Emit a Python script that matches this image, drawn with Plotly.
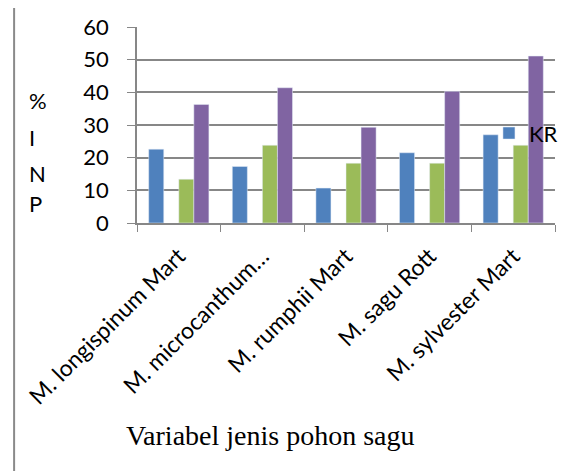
import plotly.graph_objects as go

categories = ["M. longispinum Mart", "M. microcanthum…", "M. rumphii Mart",
              "M. sagu Rott", "M. sylvester Mart"]
kr = [22.6, 17.3, 10.7, 21.5, 27.0]
empty_series = [None, None, None, None, None]
series_green = [13.4, 23.8, 18.3, 18.3, 23.8]
series_purple = [36.3, 41.4, 29.3, 40.3, 51.1]

SANS = "Lato, 'Open Sans', sans-serif"
GRID = "#878787"

fig = go.Figure()
fig.add_trace(go.Bar(x=categories, y=kr, name="KR", marker_color="#4F81BD",
                     width=0.18, offset=-0.36, showlegend=True))
fig.add_trace(go.Bar(x=categories, y=empty_series, name="", marker_color="#C0504D",
                     width=0.18, offset=-0.18, showlegend=False))
fig.add_trace(go.Bar(x=categories, y=series_green, name="", marker_color="#9BBB59",
                     width=0.18, offset=0.0, showlegend=False))
fig.add_trace(go.Bar(x=categories, y=series_purple, name="", marker_color="#8064A2",
                     width=0.18, offset=0.18, showlegend=False))

# page body has an 8px default margin, so the figure is sized/placed to compensate
fig.update_layout(
    width=561, height=463,
    margin=dict(l=129, r=14, t=19, b=248, autoexpand=False),
    paper_bgcolor="white", plot_bgcolor="white",
    barmode="overlay",
    font=dict(family=SANS, size=22, color="black"),
    showlegend=True,
    legend=dict(x=0.842, y=0.458, xanchor="left", yanchor="middle",
                bgcolor="rgba(0,0,0,0)", font=dict(family=SANS, size=22),
                itemclick=False),
    xaxis=dict(type="category", tickson="boundaries", ticks="outside", ticklen=7,
               tickcolor=GRID, showline=True, linecolor=GRID, linewidth=1.5,
               showgrid=False, tickangle=-45, ticklabelstandoff=9,
               tickfont=dict(family=SANS, size=23)),
    yaxis=dict(range=[0, 60], dtick=10, ticks="outside", ticklen=8, tickcolor=GRID,
               showline=True, linecolor=GRID, linewidth=1.5, showgrid=True,
               gridcolor=GRID, gridwidth=1.5, zeroline=False, ticklabelstandoff=14,
               tickfont=dict(family=SANS, size=22)),
)

# y-axis title letters stacked vertically
for letter, yp in zip(["%", "I", "N", "P"], [0.626, 0.437, 0.254, 0.10]):
    fig.add_annotation(text=letter, xref="paper", yref="paper", x=-0.262, y=yp,
                       xanchor="left", yanchor="middle", showarrow=False,
                       font=dict(family=SANS, size=22))

fig.add_annotation(text="Variabel jenis pohon sagu", xref="paper", yref="paper",
                   x=0.32, y=-1.085, xanchor="center", yanchor="middle", showarrow=False,
                   font=dict(family="'Liberation Serif', 'Times New Roman', serif", size=28))

# chart area border (left and top edges visible)
fig.add_shape(type="line", xref="paper", yref="paper", x0=-0.294, x1=-0.294,
              y0=1.108, y1=-1.35, line=dict(color="#8A8A8A", width=2))
fig.add_shape(type="line", xref="paper", yref="paper", x0=-0.294, x1=1.06,
              y0=1.108, y1=1.108, line=dict(color="#8A8A8A", width=2))

fig.write_html("out.html")
